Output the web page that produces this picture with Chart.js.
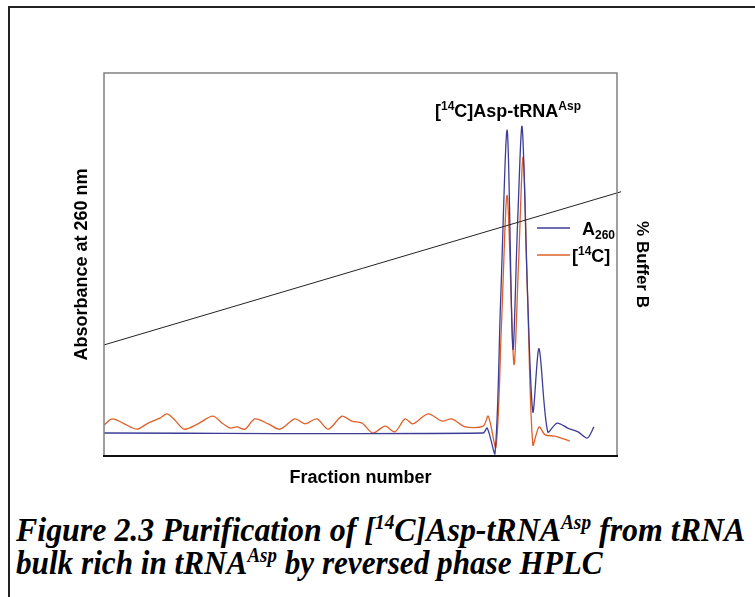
<!DOCTYPE html>
<html>
<head>
<meta charset="utf-8">
<script src="https://cdn.jsdelivr.net/npm/chart.js@4.4.0/dist/chart.umd.min.js"></script>
<style>
  html, body { margin: 0; padding: 0; background: #fff; overflow: hidden; }
  #frame {
    position: absolute; left: 8px; top: 6px; width: 900px; height: 700px;
    border-top: 2px solid #222; border-left: 2px solid #222;
  }
  #chartBox { position: absolute; left: 0; top: 0; width: 755px; height: 500px; }
  #caption {
    position: absolute; left: 16px; top: 514px; width: 900px;
    font-family: "Liberation Serif", "Times New Roman", serif;
    font-weight: bold; font-style: italic; font-size: 33px; line-height: 33px;
    color: #000; white-space: nowrap;
  }
  #caption .ln { display: inline-block; transform-origin: 0 50%; }
  #caption sup { font-size: 20px; vertical-align: 12px; line-height: 0; }
</style>
</head>
<body>
<div id="frame"></div>
<div id="chartBox"><canvas id="hplcChart" width="755" height="500"></canvas></div>
<div id="caption"><span class="ln">Figure 2.3 Purification of [<sup>14</sup>C]Asp-tRNA<sup>Asp</sup> from tRNA</span><br><span class="ln">bulk rich in tRNA<sup>Asp</sup> by reversed phase HPLC</span></div>

<script>
// A260 trace (blue)
const fractionA = [0, 73.9, 74.7, 76.2, 77.3, 78.6, 79.7, 80.6, 81.5, 82.5, 83.6, 84.8, 86.5, 88.3, 90.4, 92.4, 94.2, 95.5];
const a260 =      [6.0, 6.0, 7.3, 0.5, 40, 85, 28, 60, 86, 45, 11.5, 28, 6.3, 8.6, 7.3, 6.3, 4.7, 7.6];

// [14C] trace (orange)
const fractionC = [0, 1.6, 3.7, 6.4, 8.6, 10.9, 12.3, 13.8, 15.6, 18.3, 21.2, 23.2, 24.6, 25.9, 27.5, 29.4,
  32.0, 34.3, 37.2, 39.2, 41.5, 43.7, 46.4, 48.3, 50.3, 52.4, 54.8, 56.7, 58.7, 60.2, 63.2, 65.9, 67.8,
  70.4, 73.9, 74.9, 76.4, 77.5, 78.6, 79.9, 80.8, 81.7, 82.6, 83.6, 84.8, 86.0, 87.9, 90.8];
const c14 = [8.1, 9.7, 8.6, 7.0, 8.6, 9.9, 11.0, 9.4, 7.0, 8.4, 10.4, 8.4, 7.3, 7.6, 7.0, 9.7,
  8.4, 7.0, 9.7, 8.4, 9.7, 7.0, 10.4, 9.1, 8.6, 6.0, 7.8, 6.3, 9.7, 8.4, 11.0, 9.1, 9.7,
  7.6, 7.8, 10.4, 2.3, 35, 68, 24, 50, 78, 40, 2.9, 7.6, 5.5, 5.2, 3.9];

// gradient, % buffer B
const bufferX = [0, 100.8];
const bufferB = [29, 69];

const toPoints = (xs, ys) => xs.map((x, i) => ({ x: x, y: ys[i] }));

const sans = '"Liberation Sans", Arial, sans-serif';

// frame, peak label and legend with sub/superscripts
const extrasPlugin = {
  id: 'extras',
  afterDraw(chart) {
    const { ctx, chartArea: a } = chart;
    ctx.save();
    ctx.strokeStyle = '#808080';
    ctx.lineWidth = 1.5;
    ctx.beginPath();
    ctx.moveTo(a.left, a.bottom);
    ctx.lineTo(a.left, a.top);
    ctx.lineTo(a.right, a.top);
    ctx.lineTo(a.right, a.bottom);
    ctx.stroke();
    ctx.strokeStyle = '#111';
    ctx.lineWidth = 2;
    ctx.beginPath();
    ctx.moveTo(a.left - 1, a.bottom);
    ctx.lineTo(a.right + 1, a.bottom);
    ctx.stroke();

    ctx.fillStyle = '#000';
    ctx.textBaseline = 'alphabetic';
    let x, y;
    const put = (t, f, dy) => { ctx.font = f; ctx.fillText(t, x, y + dy); x += ctx.measureText(t).width; };
    const big = 'bold 18px ' + sans;
    const small = 'bold 12px ' + sans;

    // peak label
    x = 435; y = 117;
    put('[', big, 0); put('14', small, -7); put('C]Asp-tRNA', big, 0); put('Asp', small, -7);

    // legend
    ctx.lineWidth = 1.5;
    ctx.strokeStyle = '#3d3d99';
    ctx.beginPath(); ctx.moveTo(537, 228); ctx.lineTo(570, 228); ctx.stroke();
    ctx.strokeStyle = '#e0602a';
    ctx.beginPath(); ctx.moveTo(537, 255); ctx.lineTo(570, 255); ctx.stroke();
    x = 582; y = 235;
    put('A', big, 0);
    put('260', small, 4);
    x = 572; y = 262;
    put('[', big, 0);
    put('14', small, -7);
    put('C]', big, 0);
    ctx.restore();
  }
};

const titleFont = { family: sans, size: 18, weight: 'bold' };

const ctx = document.getElementById('hplcChart').getContext('2d');
const hplcChart = new Chart(ctx, {
  type: 'line',
  data: {
    datasets: [
      {
        label: '% Buffer B',
        data: toPoints(bufferX, bufferB),
        yAxisID: 'y2',
        borderColor: '#222',
        borderWidth: 1,
        pointRadius: 0,
        clip: false
      },
      {
        label: 'A260',
        data: toPoints(fractionA, a260),
        borderColor: '#3d3d99',
        borderWidth: 1.3,
        pointRadius: 0,
        tension: 0.3
      },
      {
        label: '[14C]',
        data: toPoints(fractionC, c14),
        borderColor: '#e0602a',
        borderWidth: 1.3,
        pointRadius: 0,
        tension: 0.3
      }
    ]
  },
  options: {
    responsive: false,
    animation: false,
    layout: { padding: { left: 71, right: 103, top: 73, bottom: 11 } },
    plugins: { legend: { display: false }, tooltip: { enabled: false } },
    scales: {
      x: {
        type: 'linear', min: 0, max: 100,
        grid: { display: false }, border: { display: false },
        ticks: { display: false },
        title: { display: true, text: 'Fraction number', font: titleFont, color: '#000', padding: 0 },
        afterFit: (s) => { s.height = 33; }
      },
      y: {
        min: 0, max: 100,
        grid: { display: false }, border: { display: false },
        ticks: { display: false },
        title: { display: true, text: 'Absorbance at 260 nm', font: titleFont, color: '#000', padding: 0 },
        afterFit: (s) => { s.width = 33; }
      },
      y2: {
        position: 'right', min: 0, max: 100,
        grid: { display: false }, border: { display: false },
        ticks: { display: false },
        title: { display: true, text: '% Buffer B', font: { family: sans, size: 17, weight: 'bold' }, color: '#000', padding: 0 },
        afterFit: (s) => { s.width = 35; }
      }
    }
  },
  plugins: [extrasPlugin]
});

// fit caption lines to the widths seen in the figure
const captionWidths = [729, 587];
document.querySelectorAll('#caption .ln').forEach((el, i) => {
  el.style.transform = 'scaleX(' + (captionWidths[i] / el.offsetWidth) + ')';
});
</script>
</body>
</html>
